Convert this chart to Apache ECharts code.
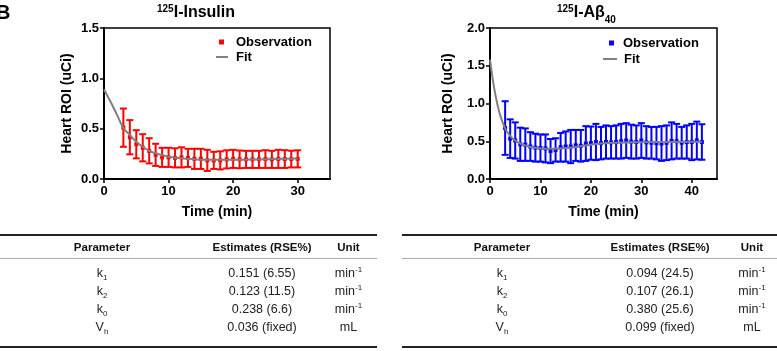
<!DOCTYPE html>
<html>
<head>
<meta charset="utf-8">
<script src="https://cdn.jsdelivr.net/npm/echarts@6/dist/echarts.min.js"></script>
<style>
  body { margin: 0; width: 777px; height: 351px; overflow: hidden; position: relative; background: #fff;
         font-family: 'Liberation Sans', Arial, sans-serif; }
  #chart { position: absolute; left: 0; top: 0; width: 777px; height: 351px; }
  table.params { position: absolute; top: 234px; border-collapse: collapse; color: #222; font-size: 12.5px;
                 border-top: 2px solid #222; border-bottom: 2px solid #222; table-layout: fixed; }
  table.params th { font-weight: bold; height: 22px; padding: 0; border-bottom: 1px solid #aaa; font-size: 11.5px; color: #111; }
  table.params td { text-align: center; padding: 0; height: 18px; line-height: 18px; vertical-align: middle; }
  table.params tr.first td { padding-top: 5px; }
  table.params tr.last td { padding-bottom: 10px; }
  table.params sub { font-size: 8px; line-height: 0; vertical-align: -3px; }
  table.params sup { font-size: 8px; line-height: 0; vertical-align: 5px; }
</style>
</head>
<body>
<div id="chart"></div>
<table class="params" id="tableInsulin" style="left:0;width:377px"></table>
<table class="params" id="tableAbeta" style="left:402px;width:384px"></table>
<script>
// * 心脏 ROI 时间曲线：125I-Insulin 与 125I-Aβ40

// ? 观测值 (均值 ± 误差)
const insulinTime = [3,4,5,6,7,8,9,10,11,12,13,14,15,16,17,18,19,20,21,22,23,24,25,26,27,28,29,30]
const insulinMean = [0.51,0.415,0.345,0.31,0.28,0.24,0.215,0.215,0.21,0.215,0.21,0.2,0.2,0.185,0.185,0.185,0.195,0.2,0.195,0.195,0.195,0.195,0.198,0.195,0.2,0.198,0.198,0.2]
const insulinErr = [0.19,0.17,0.14,0.135,0.125,0.11,0.095,0.095,0.095,0.1,0.09,0.1,0.1,0.105,0.085,0.09,0.09,0.09,0.088,0.085,0.085,0.085,0.088,0.085,0.09,0.088,0.083,0.085]
// ? 拟合曲线
const insulinFitTime = [0,1,2,3,4,5,6,7,8,9,10,12,15,18,20,25,30]
const insulinFitValue = [0.89,0.77,0.64,0.51,0.437,0.37,0.32,0.28,0.255,0.238,0.222,0.205,0.192,0.19,0.19,0.197,0.203]

const abetaTime = [3,4,5,6,7,8,9,10,11,12,13,14,15,16,17,18,19,20,21,22,23,24,25,26,27,28,29,30,31,32,33,34,35,36,37,38,39,40,41,42]
const abetaMean = [0.675,0.535,0.51,0.46,0.455,0.43,0.415,0.41,0.405,0.37,0.385,0.42,0.43,0.43,0.445,0.44,0.47,0.475,0.49,0.475,0.49,0.485,0.49,0.5,0.51,0.495,0.49,0.51,0.485,0.48,0.475,0.47,0.48,0.505,0.5,0.48,0.49,0.49,0.51,0.49]
const abetaErr = [0.355,0.255,0.24,0.22,0.215,0.19,0.185,0.18,0.185,0.16,0.155,0.19,0.2,0.22,0.205,0.21,0.23,0.22,0.24,0.215,0.22,0.215,0.22,0.23,0.23,0.225,0.22,0.23,0.215,0.21,0.215,0.23,0.23,0.245,0.23,0.21,0.22,0.24,0.25,0.235]
const abetaFitTime = [0,0.5,1,1.5,2,3,4,5,6,7,8,10,12,14,16,18,20,22,25,30,35,42]
const abetaFitValue = [1.58,1.34,1.14,0.98,0.85,0.67,0.57,0.51,0.47,0.445,0.425,0.405,0.4,0.405,0.415,0.435,0.455,0.47,0.48,0.487,0.49,0.493]

// ? 参数表
const paramNames = [['k', '1'], ['k', '2'], ['k', '0'], ['V', 'h']]
const insulinEstimates = ['0.151 (6.55)', '0.123 (11.5)', '0.238 (6.6)', '0.036 (fixed)']
const abetaEstimates = ['0.094 (24.5)', '0.107 (26.1)', '0.380 (25.6)', '0.099 (fixed)']
const paramUnits = ['min<sup>-1</sup>', 'min<sup>-1</sup>', 'min<sup>-1</sup>', 'mL']

const FONT = 'Liberation Sans'
const chart = echarts.init(document.getElementById('chart'))

// 误差线 (custom series)
function errorBar (params, api) {
  const x = api.value(0)
  const lo = api.coord([x, api.value(1)])
  const hi = api.coord([x, api.value(2)])
  const mid = api.coord([x, api.value(3)])
  const color = api.visual('color')
  const cap = 3.5
  const style = { stroke: color, lineWidth: 2 }
  return {
    type: 'group',
    children: [
      { type: 'line', shape: { x1: lo[0], y1: lo[1], x2: hi[0], y2: hi[1] }, style },
      { type: 'line', shape: { x1: hi[0] - cap, y1: hi[1], x2: hi[0] + cap, y2: hi[1] }, style },
      { type: 'line', shape: { x1: lo[0] - cap, y1: lo[1], x2: lo[0] + cap, y2: lo[1] }, style },
      { type: 'rect', shape: { x: mid[0] - 2, y: mid[1] - 2, width: 4, height: 4 }, style: { fill: color } }
    ]
  }
}

const toBars = (time, mean, err) => time.map((t, i) => [t, mean[i] - err[i], mean[i] + err[i], mean[i]])
const toLine = (time, val) => time.map((t, i) => [t, val[i]])

const axisCommon = {
  axisLine: { show: true, lineStyle: { color: '#000', width: 2 } },
  axisTick: { show: true, length: 4, lineStyle: { color: '#000', width: 1.5 } },
  splitLine: { show: false },
  nameLocation: 'middle',
  nameTextStyle: { fontFamily: FONT, fontWeight: 'bold', fontSize: 14, color: '#000' }
}
const labelCommon = { fontFamily: FONT, fontWeight: 'bold', fontSize: 13, color: '#000' }

function legendItem (name, color, left, top, w, h, pad) {
  return {
    left, top, padding: 0, itemWidth: w, itemHeight: h, selectedMode: false,
    data: [{ name, icon: 'rect', itemStyle: { color, borderWidth: 0 } }],
    textStyle: { fontFamily: FONT, fontWeight: 'bold', fontSize: 13, color: '#000', lineHeight: 14, padding: [0, 0, 0, pad] }
  }
}

const titleRich = {
  sup: { fontFamily: FONT, fontWeight: 'bold', fontSize: 10, lineHeight: 18, verticalAlign: 'top' },
  b: { fontFamily: FONT, fontWeight: 'bold', fontSize: 16, lineHeight: 18 },
  sub: { fontFamily: FONT, fontWeight: 'bold', fontSize: 10, lineHeight: 18, verticalAlign: 'bottom', padding: [0, 0, -3, 0] }
}

const option = {
  animation: false,
  graphic: [
    { type: 'text', left: -4, top: 3, style: { text: 'B', fontFamily: FONT, fontWeight: 'bold', fontSize: 20, fill: '#000' } },
    { type: 'text', left: 157, top: 4, style: { text: '{sup|125}{b|I-Insulin}', rich: titleRich, fill: '#000' } },
    { type: 'text', left: 557, top: 4, style: { text: '{sup|125}{b|I-Aβ}{sub|40}', rich: titleRich, fill: '#000' } }
  ],
  legend: [
    legendItem('Observation', '#ff0000', 219, 35, 5, 5, 7),
    legendItem('Fit', '#808080', 216, 50, 12, 2, 3),
    legendItem('Observation', '#0000ff', 609, 36, 5, 5, 4),
    legendItem('Fit', '#808080', 603, 52, 14, 2, 2)
  ],
  grid: [
    { left: 104, top: 28, width: 226, height: 151, show: true, borderColor: '#000', borderWidth: 1.5 },
    { left: 490, top: 28, width: 227, height: 151, show: true, borderColor: '#000', borderWidth: 1.5 }
  ],
  xAxis: [
    { ...axisCommon, type: 'value', gridIndex: 0, min: 0, max: 35, interval: 10, name: 'Time (min)', nameGap: 26,
      axisLabel: { ...labelCommon, margin: 6, showMaxLabel: false } },
    { ...axisCommon, type: 'value', gridIndex: 1, min: 0, max: 45, interval: 10, name: 'Time (min)', nameGap: 26,
      axisLabel: { ...labelCommon, margin: 6, showMaxLabel: false } }
  ],
  yAxis: [
    { ...axisCommon, type: 'value', gridIndex: 0, min: 0, max: 1.5, interval: 0.5, name: 'Heart ROI (uCi)', nameGap: 30,
      axisLabel: { ...labelCommon, margin: 5, formatter: v => v.toFixed(1) } },
    { ...axisCommon, type: 'value', gridIndex: 1, min: 0, max: 2, interval: 0.5, name: 'Heart ROI (uCi)', nameGap: 35,
      axisLabel: { ...labelCommon, margin: 5, formatter: v => v.toFixed(1) } }
  ],
  series: [
    { name: 'Observation', type: 'custom', xAxisIndex: 0, yAxisIndex: 0, itemStyle: { color: '#ff0000' },
      renderItem: errorBar, encode: { x: 0, y: [1, 2] }, data: toBars(insulinTime, insulinMean, insulinErr), z: 2 },
    { name: 'Fit', type: 'line', xAxisIndex: 0, yAxisIndex: 0, smooth: true, symbol: 'none',
      itemStyle: { color: '#808080' }, lineStyle: { color: '#808080', width: 2 }, data: toLine(insulinFitTime, insulinFitValue), z: 3 },
    { name: 'Observation', type: 'custom', xAxisIndex: 1, yAxisIndex: 1, itemStyle: { color: '#0000ff' },
      renderItem: errorBar, encode: { x: 0, y: [1, 2] }, data: toBars(abetaTime, abetaMean, abetaErr), z: 2 },
    { name: 'Fit', type: 'line', xAxisIndex: 1, yAxisIndex: 1, smooth: true, symbol: 'none',
      itemStyle: { color: '#808080' }, lineStyle: { color: '#808080', width: 2 }, data: toLine(abetaFitTime, abetaFitValue), z: 3 }
  ]
}

chart.setOption(option)

// 参数表 (HTML)
function fillTable (id, estimates, widths) {
  const el = document.getElementById(id)
  let html = '<colgroup>' + widths.map(w => `<col style="width:${w}px">`).join('') + '</colgroup>'
  html += '<tr><th>Parameter</th><th>Estimates (RSE%)</th><th>Unit</th></tr>'
  paramNames.forEach((p, i) => {
    const cls = i === 0 ? 'first' : (i === paramNames.length - 1 ? 'last' : '')
    html += `<tr class="${cls}"><td>${p[0]}<sub>${p[1]}</sub></td><td>${estimates[i]}</td><td>${paramUnits[i]}</td></tr>`
  })
  el.innerHTML = html
}
fillTable('tableInsulin', insulinEstimates, [204, 116, 57])
fillTable('tableAbeta', abetaEstimates, [200, 116, 68])
</script>
</body>
</html>
